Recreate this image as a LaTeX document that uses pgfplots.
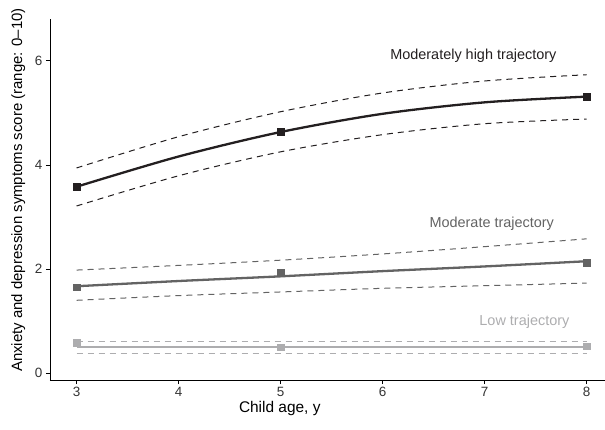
\documentclass[border=0pt]{standalone}
\usepackage{fontspec}
\setmainfont{Liberation Sans}
\usepackage{pgfplots}
\pgfplotsset{compat=1.18}
\definecolor{cHigh}{HTML}{231F20}
\definecolor{cMod}{HTML}{636363}
\definecolor{cLow}{HTML}{ADADAF}
\definecolor{ink}{HTML}{333333}

\begin{document}
\begin{tikzpicture}
\useasboundingbox (-50bp,-50bp) rectangle (555bp,380bp);
\begin{axis}[
  at={(0,0)}, anchor=south west,
  scale only axis,
  width=555bp, height=361bp,
  xmin=2.74, xmax=8.18,
  ymin=-0.13, ymax=6.8,
  axis x line=bottom, axis y line=left,
  axis line style={-, draw=black, line width=0.6pt},
  xtick={3,4,5,6,7,8},
  ytick={0,2,4,6},
  tick align=outside,
  major tick length=4bp,
  tick style={draw=black, line width=0.6pt},
  tick label style={font=\fontsize{13.5}{15}\selectfont, text=ink},
  /pgf/number format/assume math mode=true,
  xlabel={Child age, y},
  ylabel={Anxiety and depression symptoms score (range: 0--10)},
  every axis x label/.style={at={(axis description cs:0.414,-0.078)}, anchor=center, font=\fontsize{15.5}{17}\selectfont},
  every axis y label/.style={at={(axis description cs:-0.057,0.526)}, anchor=center, rotate=90, font=\fontsize{15}{17}\selectfont},
  clip=false,
]
% moderately high trajectory
\addplot[cHigh, line width=1bp, dash pattern=on 6bp off 5bp, smooth] coordinates {(3,3.94) (4,4.54) (5,5.02) (6,5.38) (7,5.61) (8,5.73)};
\addplot[cHigh, line width=1bp, dash pattern=on 6bp off 5bp, smooth] coordinates {(3,3.21) (4,3.79) (5,4.25) (6,4.58) (7,4.79) (8,4.88)};
\addplot[cHigh, line width=2.3bp, smooth] coordinates {(3,3.58) (4,4.16) (5,4.63) (6,4.98) (7,5.20) (8,5.31)};
\addplot[cHigh, only marks, mark=square*, mark size=3.4bp] coordinates {(3,3.58) (5,4.63) (8,5.31)};
% moderate trajectory
\addplot[cMod, line width=1bp, dash pattern=on 6bp off 5bp, smooth] coordinates {(3,1.98) (4,2.07) (5,2.17) (6,2.29) (7,2.43) (8,2.58)};
\addplot[cMod, line width=1bp, dash pattern=on 6bp off 5bp, smooth] coordinates {(3,1.40) (4,1.49) (5,1.56) (6,1.63) (7,1.68) (8,1.73)};
\addplot[cMod, line width=2.3bp, smooth] coordinates {(3,1.67) (4,1.77) (5,1.86) (6,1.96) (7,2.05) (8,2.15)};
\addplot[cMod, only marks, mark=square*, mark size=3.4bp] coordinates {(3,1.65) (5,1.94) (8,2.12)};
% low trajectory
\addplot[cLow, line width=1bp, dash pattern=on 6bp off 5bp] coordinates {(3,0.60) (8,0.60)};
\addplot[cLow, line width=1bp, dash pattern=on 6bp off 5bp] coordinates {(3,0.38) (8,0.38)};
\addplot[cLow, line width=2.3bp] coordinates {(3,0.50) (8,0.50)};
\addplot[cLow, only marks, mark=square*, mark size=3.4bp] coordinates {(3,0.58) (5,0.50) (8,0.52)};
% labels
\node[text=cHigh, font=\fontsize{14.5}{16}\selectfont] at (axis cs:6.89,6.10) {Moderately high trajectory};
\node[text=cMod, font=\fontsize{14.5}{16}\selectfont] at (axis cs:7.07,2.87) {Moderate trajectory};
\node[text=cLow, font=\fontsize{14.5}{16}\selectfont] at (axis cs:7.39,0.98) {Low trajectory};
\end{axis}
\end{tikzpicture}
\end{document}
